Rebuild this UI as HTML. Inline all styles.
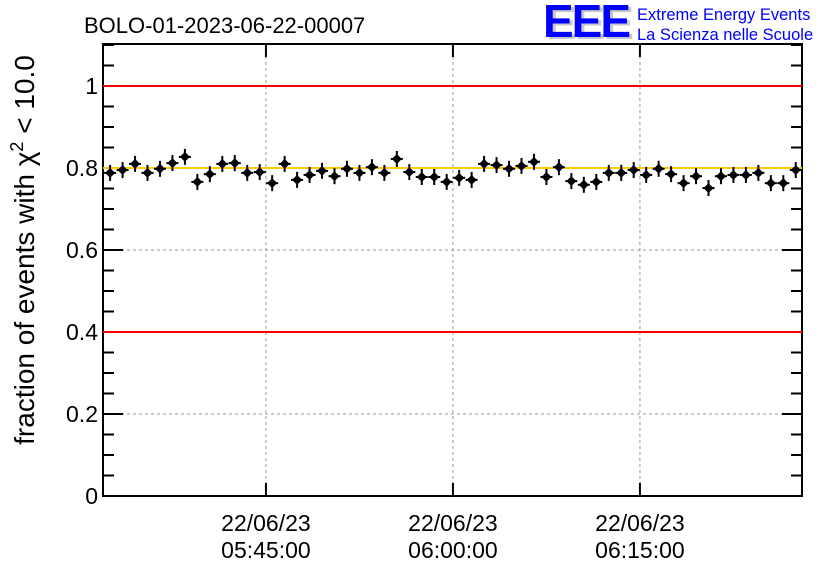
<!DOCTYPE html>
<html><head><meta charset="utf-8"><style>
body{margin:0;background:#fff;width:836px;height:572px;overflow:hidden;font-family:"Liberation Sans",Arial,sans-serif}
</style></head><body>
<svg id="chart" width="836" height="572" xmlns="http://www.w3.org/2000/svg" font-family="Liberation Sans, Arial, sans-serif">
<text x="84" y="33" font-size="22">BOLO-01-2023-06-22-00007</text>
<g>
<text x="546" y="39" font-size="46" font-weight="bold" fill="#c8c8c8" letter-spacing="-2">EEE</text>
<text x="543" y="37" font-size="46" font-weight="bold" fill="#0000ff" letter-spacing="-2">EEE</text>
<text x="637" y="20" font-size="16.5" fill="#0000ff">Extreme Energy Events</text>
<text x="637" y="40" font-size="16.5" fill="#0000ff">La Scienza nelle Scuole</text>
</g>
<g id="grid"></g>
<g id="axes"></g>
<g id="marks"></g>
<text transform="translate(34,250) rotate(-90)" text-anchor="middle" font-size="28">fraction of events with χ<tspan dy="-11" font-size="18">2</tspan><tspan dy="11"> &lt; 10.0</tspan></text>
</svg>
<script>
const yTicks=[0,0.2,0.4,0.6,0.8,1];
const yTickLabels=["0","0.2","0.4","0.6","0.8","1"];
const xTicks=[15,30,45];
const xTickDates=["22/06/23","22/06/23","22/06/23"];
const xTickTimes=["05:45:00","06:00:00","06:15:00"];
const times=[];for(let i=0;i<56;i++)times.push(2.5+i);
const values=[0.788,0.795,0.810,0.788,0.798,0.812,0.827,0.766,0.785,0.810,0.812,0.788,0.790,0.763,0.810,0.771,0.783,0.793,0.780,0.798,0.788,0.802,0.788,0.822,0.790,0.778,0.778,0.766,
0.776,0.771,0.810,0.807,0.798,0.805,0.815,0.778,0.802,0.768,0.759,0.766,0.788,0.788,0.795,0.783,0.798,0.785,0.763,0.780,0.751,0.780,0.783,0.783,0.788,0.763,0.763,0.795];
const redLines=[0.4,1.0];
const meanLine=0.8;
const L=103,R=802,T=44,B=496,X0=1.93,X1=58,Y0=0,Y1=1.1024;
const sx=v=>L+(v-X0)/(X1-X0)*(R-L);
const sy=v=>B-(v-Y0)/(Y1-Y0)*(B-T);
const NS="http://www.w3.org/2000/svg";
function mk(p,tag,a){const e=document.createElementNS(NS,tag);for(const k in a)e.setAttribute(k,a[k]);p.appendChild(e);return e;}
const grid=document.getElementById('grid'),axes=document.getElementById('axes'),marks=document.getElementById('marks');
yTicks.forEach((v,i)=>{if(v>0&&v<1){const g=mk(grid,'line',{x1:L,x2:R,y1:sy(v),y2:sy(v),stroke:'#999','stroke-dasharray':'3,3'});

}});
xTicks.forEach(v=>{const g=mk(grid,'line',{x1:sx(v),x2:sx(v),y1:T,y2:B,stroke:'#999','stroke-dasharray':'3,3'});

});
const frame=mk(axes,'rect',{x:L,y:T,width:R-L,height:B-T,fill:'none',stroke:'#000','stroke-width':2});


for(let k=0;k<=22;k++){const v=k*0.05;const maj=k%4==0;const len=maj?20:11;
mk(axes,'line',{x1:L,x2:L+len,y1:sy(v),y2:sy(v),stroke:'#000','stroke-width':2});
mk(axes,'line',{x1:R-len,x2:R,y1:sy(v),y2:sy(v),stroke:'#000','stroke-width':2});}
yTicks.forEach((v,i)=>{const t=mk(axes,'text',{x:L-5,y:sy(v)+8,'text-anchor':'end','font-size':23});t.textContent=yTickLabels[i];

});
xTicks.forEach((v,i)=>{mk(axes,'line',{x1:sx(v),x2:sx(v),y1:B-13,y2:B,stroke:'#000','stroke-width':2});
mk(axes,'line',{x1:sx(v),x2:sx(v),y1:T,y2:T+13,stroke:'#000','stroke-width':2});
const t=mk(axes,'text',{x:sx(v),y:531,'text-anchor':'middle','font-size':23});t.textContent=xTickDates[i];


const t2=mk(axes,'text',{x:sx(v),y:558,'text-anchor':'middle','font-size':23});t2.textContent=xTickTimes[i];

});
redLines.forEach(v=>{const l=mk(marks,'line',{x1:L,x2:R,y1:sy(v),y2:sy(v),stroke:'#ff0000','stroke-width':2});

});
const ml=mk(marks,'line',{x1:L,x2:R,y1:sy(meanLine),y2:sy(meanLine),stroke:'#ffcc00','stroke-width':2});


times.forEach((t,i)=>{const x=sx(t),y=sy(values[i]);
const g=mk(marks,'g',{});


mk(g,'line',{x1:x-6,x2:x+6,y1:y,y2:y,stroke:'#000','stroke-width':2});
mk(g,'line',{x1:x,x2:x,y1:y-8,y2:y+8,stroke:'#000','stroke-width':2});
mk(g,'path',{d:`M${x} ${y-5}L${x+5} ${y}L${x} ${y+5}L${x-5} ${y}Z`,fill:'#000'});});
</script>
</body></html>
